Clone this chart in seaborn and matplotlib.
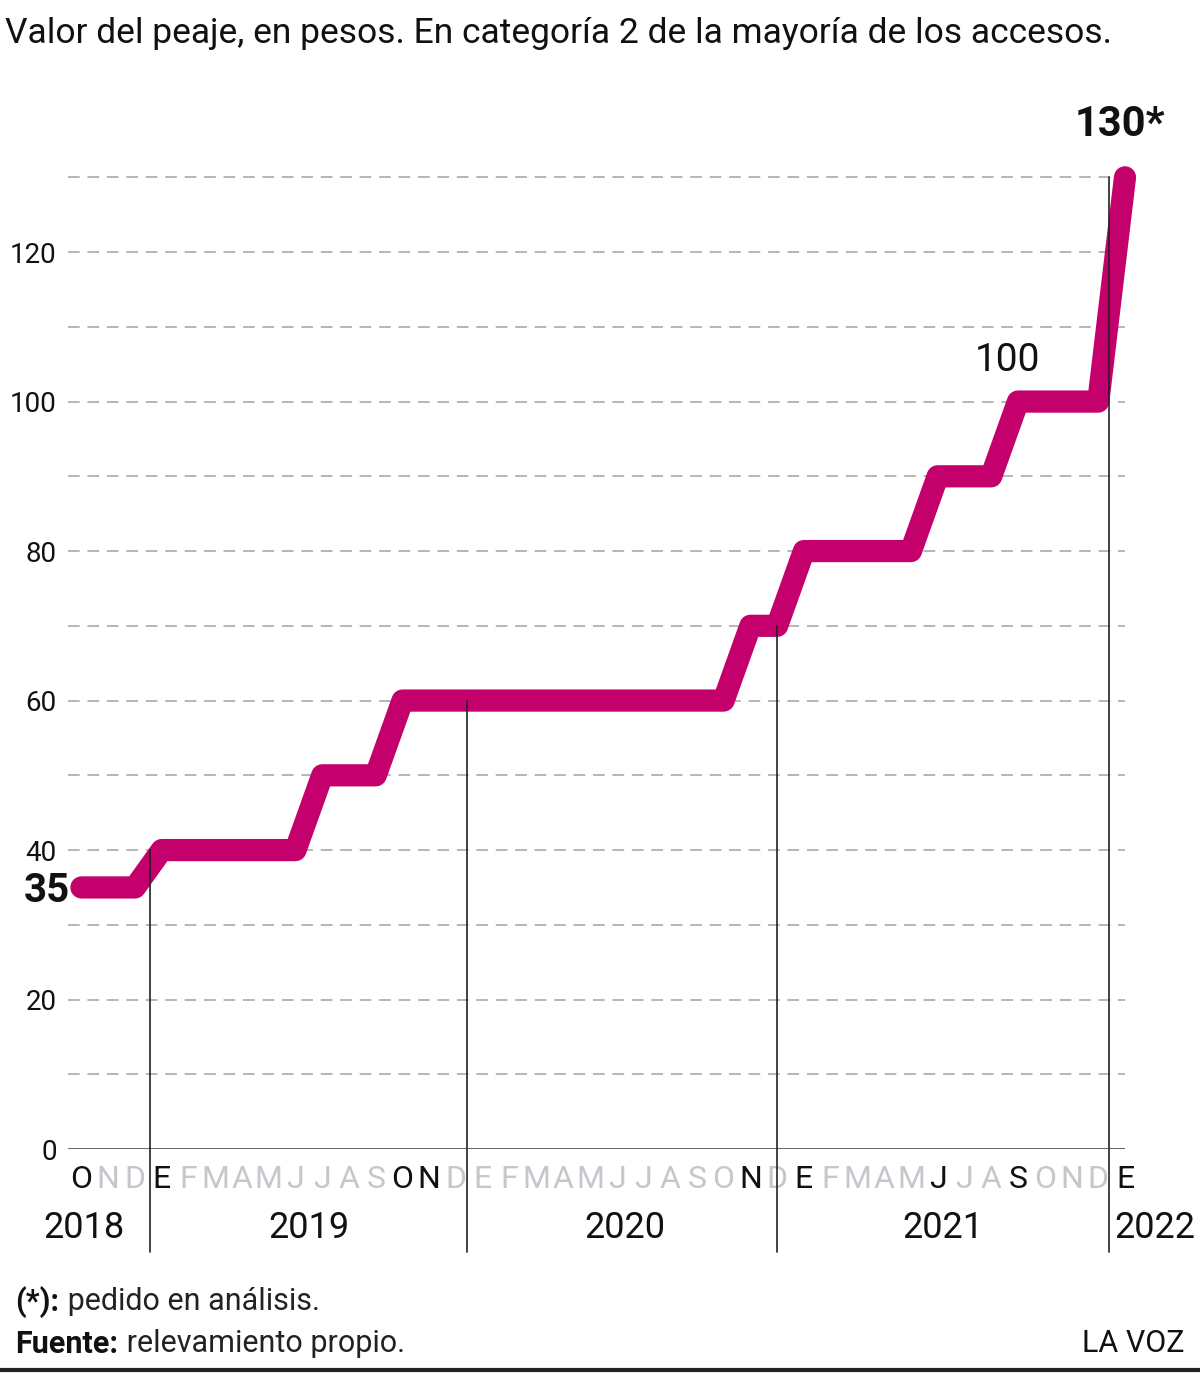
import numpy as np
import pandas as pd
import matplotlib.pyplot as plt
import seaborn as sns
from matplotlib.lines import Line2D
from matplotlib import font_manager

# months from Oct 2018 to Jan 2022
month_letters = list("OND") + list("EFMAMJJASOND") * 3 + ["E"]
month_bold = [0, 3, 12, 13, 25, 27, 32, 35, 39]
toll = [35, 35, 35,
        40, 40, 40, 40, 40, 40, 50, 50, 50, 60, 60, 60,
        60, 60, 60, 60, 60, 60, 60, 60, 60, 60, 70, 70,
        80, 80, 80, 80, 80, 90, 90, 90, 100, 100, 100, 100,
        130]
years = ["2018", "2019", "2020", "2021", "2022"]
year_x = [0.1, 8.5, 20.3, 32.2, 40.1]
sep_x = [2.57, 14.4, 26.0, 38.4]
sep_top = [40, 60, 70, 130]
y_ticks = [0, 20, 40, 60, 80, 100, 120]

df = pd.DataFrame({"mes": range(len(toll)), "valor": toll})

sns.set_theme(style="white")
names = {f.name for f in font_manager.fontManager.ttflist}
narrow = "Liberation Sans Narrow" if "Liberation Sans Narrow" in names else "Roboto"
plt.rcParams["font.family"] = [narrow, "DejaVu Sans"]

MAG = "#c3006b"
GRAY = "#c6c6cc"

fig = plt.figure(figsize=(12, 13.73), dpi=100)
ax = fig.add_axes([0.0567, 0.1631, 0.8808, 0.7622])

for v in range(10, 131, 10):
    ax.axhline(v, color="#b5b5b5", lw=1.4, ls=(0, (6, 4)), zorder=1)
ax.axhline(0, color="#555555", lw=2, zorder=2)

sns.lineplot(data=df, x="mes", y="valor", ax=ax, color=MAG, lw=16,
             solid_capstyle="round", solid_joinstyle="round", clip_on=False, zorder=3)

for x, top in zip(sep_x, sep_top):
    ax.plot([x, x], [top, -13.8], color="#222222", lw=1.2, clip_on=False, zorder=4)

ax.set_xlim(-0.5, 39)
ax.set_ylim(0, 140)
ax.set_yticks(y_ticks)
ax.set_yticklabels([str(v) for v in y_ticks], fontsize=20, color="#111111")
ax.tick_params(axis="y", length=0, pad=8)
ax.set_xticks([])
ax.set_xlabel("")
ax.set_ylabel("")
sns.despine(ax=ax, left=True, bottom=True)

for i, m in enumerate(month_letters):
    c = "#111111" if i in month_bold else GRAY
    ax.text(i, -4.1, m, ha="center", va="center", fontsize=23, color=c, clip_on=False)
for x, y in zip(year_x, years):
    ax.text(x, -10.5, y, ha="center", va="center", fontsize=26, color="#111111", clip_on=False)

ax.text(-1.3, 34.5, "35", ha="center", va="center", fontsize=29, fontweight="bold", color="#111111", clip_on=False)
ax.text(34.6, 105.5, "100", ha="center", va="center", fontsize=28, color="#111111")
ax.text(38.8, 137, "130*", ha="center", va="center", fontsize=30, fontweight="bold", color="#111111", clip_on=False)

fig.text(0.004, 1 - 33 / 1373, "Valor del peaje, en pesos. En categoría 2 de la mayoría de los accesos.",
         ha="left", va="center", fontsize=25.5, color="#111111")

fig.canvas.draw()
r = fig.canvas.get_renderer()
b1 = fig.text(0.013, 1 - 1302 / 1373, "(*):", ha="left", va="center", fontsize=22, fontweight="bold", color="#111111")
b2 = fig.text(0.013, 1 - 1344 / 1373, "Fuente:", ha="left", va="center", fontsize=22, fontweight="bold", color="#111111")
fig.canvas.draw()
for b, s, yy in [(b1, " pedido en análisis.", 1302), (b2, " relevamiento propio.", 1344)]:
    x1 = b.get_window_extent(r).x1 / fig.bbox.width
    fig.text(x1, 1 - yy / 1373, s, ha="left", va="center", fontsize=22, color="#222222")
fig.text(0.987, 1 - 1344 / 1373, "LA VOZ", ha="right", va="center", fontsize=22, color="#111111")
fig.add_artist(Line2D([0, 1], [1 - 1370 / 1373] * 2, color="#222222", lw=3))

fig.savefig("out.png", dpi=100)
